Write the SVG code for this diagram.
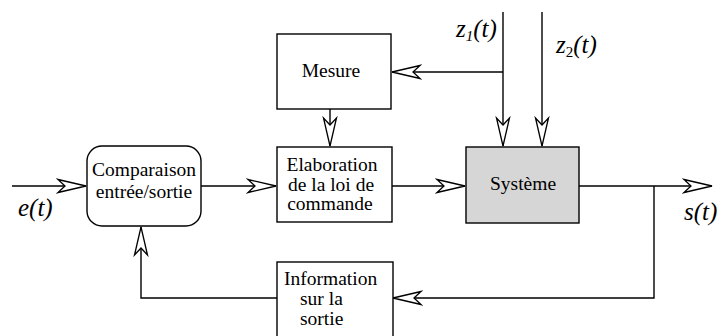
<svg xmlns="http://www.w3.org/2000/svg" width="717" height="336" viewBox="0 0 717 336">
<style>
.box{fill:#fff;stroke:#000;stroke-width:1.4}
.sys{fill:#d6d6d6;stroke:#000;stroke-width:1.4}
.t{font-size:19.5px;fill:#000}
.lab{font-size:25px;font-style:italic;fill:#000}
.sub{font-size:15px}
.c{fill:none;stroke:#000;stroke-width:1.4}
</style>
<defs>
<marker id="ah" markerUnits="userSpaceOnUse" markerWidth="32" markerHeight="16" viewBox="-30 -8 32 16" refX="0" refY="0" orient="auto">
<path d="M0,0 L-28,-6.5 L-21,0 L-28,6.5 Z" fill="#fff" stroke="#000" stroke-width="1.3" stroke-linejoin="miter"/>
</marker>
</defs>
<rect width="717" height="336" fill="#fff"/>
<g id="connectors">
<line class="c" x1="12" y1="186" x2="86" y2="186" marker-end="url(#ah)"/>
<line class="c" x1="201" y1="186" x2="276" y2="186" marker-end="url(#ah)"/>
<line class="c" x1="391" y1="186" x2="465" y2="186" marker-end="url(#ah)"/>
<line class="c" x1="579" y1="186" x2="712" y2="186" marker-end="url(#ah)"/>
<line class="c" x1="503" y1="12" x2="503" y2="146" marker-end="url(#ah)"/>
<line class="c" x1="542" y1="12" x2="542" y2="146" marker-end="url(#ah)"/>
<line class="c" x1="503" y1="72" x2="392" y2="72" marker-end="url(#ah)"/>
<line class="c" x1="330" y1="109" x2="330" y2="146" marker-end="url(#ah)"/>
<polyline class="c" points="654,186 654,298 393,298" marker-end="url(#ah)"/>
<polyline class="c" points="277,298 141,298 141,227" marker-end="url(#ah)"/>
</g>
<g font-family="'Liberation Serif', Tinos, 'Times New Roman', serif">
<g id="comparaison">
<rect class="box" x="87" y="146" width="114" height="80" rx="15" ry="15"/>
<text class="t" x="144" y="176" text-anchor="middle">Comparaison</text>
<text class="t" x="144" y="198" text-anchor="middle">entrée/sortie</text>
</g>
<g id="mesure">
<rect class="box" x="277" y="34" width="114" height="75"/>
<text class="t" x="331" y="77" text-anchor="middle">Mesure</text>
</g>
<g id="elaboration">
<rect class="box" x="277" y="147" width="115" height="75"/>
<text class="t" x="332" y="171" text-anchor="middle">Elaboration</text>
<text class="t" x="331" y="191" text-anchor="middle">de la loi de</text>
<text class="t" x="330" y="210" text-anchor="middle">commande</text>
</g>
<g id="systeme">
<rect class="sys" x="466" y="147" width="113" height="76"/>
<text class="t" x="523" y="190" text-anchor="middle">Système</text>
</g>
<g id="information">
<rect class="box" x="277" y="262" width="116" height="76"/>
<text class="t" x="284" y="285">Information</text>
<text class="t" x="300" y="305">sur la</text>
<text class="t" x="300" y="325">sortie</text>
</g>
<g id="labels">
<text class="lab" x="18" y="216">e(t)</text>
<text class="lab" x="684" y="220">s(t)</text>
<text class="lab" x="456" y="37">z<tspan class="sub" dy="4">1</tspan><tspan dy="-4">(t)</tspan></text>
<text class="lab" x="556" y="53">z<tspan class="sub" dy="4" font-style="normal">2</tspan><tspan dy="-4">(t)</tspan></text>
</g>
</g>
</svg>
